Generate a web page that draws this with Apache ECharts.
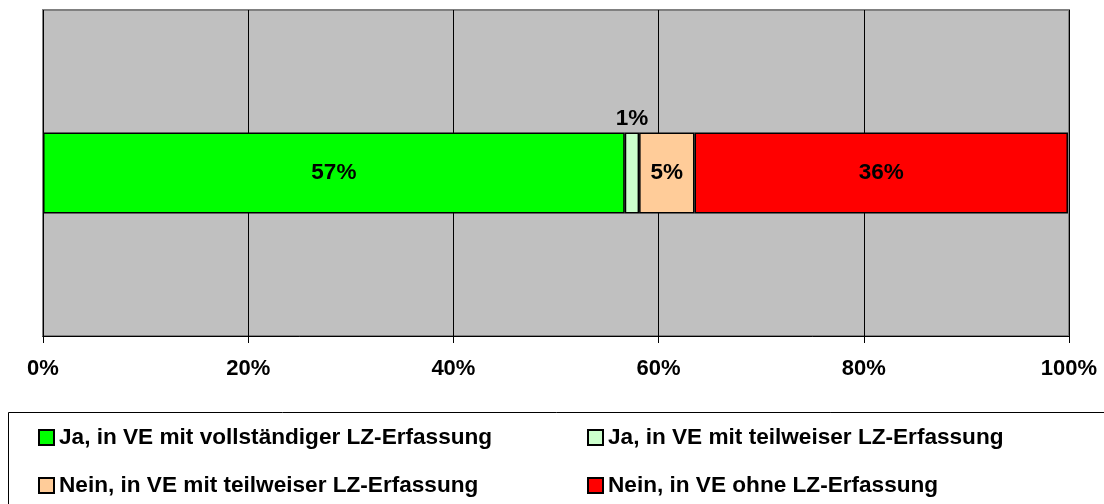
<!DOCTYPE html>
<html>
<head>
<meta charset="utf-8">
<script src="https://cdn.jsdelivr.net/npm/echarts@6/dist/echarts.min.js"></script>
<style>
  html, body { margin: 0; padding: 0; background: #fff; }
  #chart { width: 1104px; height: 504px; }
</style>
</head>
<body>
<div id="chart"></div>
<script>
// data (share in %)
var category = ['Gesamt'];
var seriesNames = [
    'Ja, in VE mit vollständiger LZ-Erfassung',
    'Ja, in VE mit teilweiser LZ-Erfassung',
    'Nein, in VE mit teilweiser LZ-Erfassung',
    'Nein, in VE ohne LZ-Erfassung'
];
var seriesValues = [56.7, 1.4, 5.4, 36.4];
var seriesColors = ['#00FF00', '#CCFFCC', '#FFCC99', '#FF0000'];
var labelPos = ['inside', 'top', 'inside', 'inside'];
var tickMin = 0, tickMax = 100, tickStep = 20;

var font = 'Arial, "Liberation Sans", sans-serif';

var series = [];
for (var i = 0; i < seriesNames.length; i++) {
    series.push({
        name: seriesNames[i],
        type: 'bar',
        stack: 'total',
        barWidth: 81,
        data: [seriesValues[i]],
        itemStyle: {
            color: seriesColors[i],
            borderColor: '#000',
            borderWidth: 1.5
        },
        label: {
            show: true,
            position: labelPos[i],
            distance: 2,
            color: '#000',
            fontFamily: font,
            fontWeight: 'bold',
            fontSize: 22.5,
            formatter: function (p) { return Math.round(p.value) + '%'; }
        }
    });
}

var legendText = { color: '#000', fontFamily: font, fontWeight: 'bold', fontSize: 22.6 };

var myChart = echarts.init(document.getElementById('chart'));
var option = {
    backgroundColor: '#fff',
    animation: false,
    grid: {
        left: 43, right: 35, top: 10, bottom: 168,
        show: true,
        backgroundColor: '#C0C0C0',
        borderColor: '#808080',
        borderWidth: 2
    },
    xAxis: {
        type: 'value',
        min: tickMin,
        max: tickMax,
        interval: tickStep,
        axisLine: { show: true, lineStyle: { color: '#000', width: 1 } },
        axisTick: { show: true, length: 7, lineStyle: { color: '#000' } },
        splitLine: { show: true, lineStyle: { color: '#000', width: 1 } },
        axisLabel: {
            margin: 22,
            color: '#000',
            fontFamily: font,
            fontWeight: 'bold',
            fontSize: 22,
            formatter: '{value}%'
        }
    },
    yAxis: {
        type: 'category',
        data: category,
        show: false
    },
    legend: [{
        orient: 'vertical',
        left: 38,
        top: 426,
        padding: 0,
        itemWidth: 15,
        itemHeight: 15,
        itemGap: 25,
        icon: 'rect',
        textStyle: legendText,
        data: [seriesNames[0], seriesNames[2]]
    }, {
        orient: 'vertical',
        left: 587,
        top: 426,
        padding: 0,
        itemWidth: 15,
        itemHeight: 15,
        itemGap: 25,
        icon: 'rect',
        textStyle: legendText,
        data: [seriesNames[1], seriesNames[3]]
    }],
    graphic: [{
        type: 'rect',
        silent: true,
        z: -1,
        shape: { x: 8.5, y: 412.5, width: 1200, height: 200 },
        style: { fill: 'none', stroke: '#000', lineWidth: 1 }
    }],
    series: series
};

myChart.setOption(option);
window.onresize = myChart.resize;
</script>
</body>
</html>
